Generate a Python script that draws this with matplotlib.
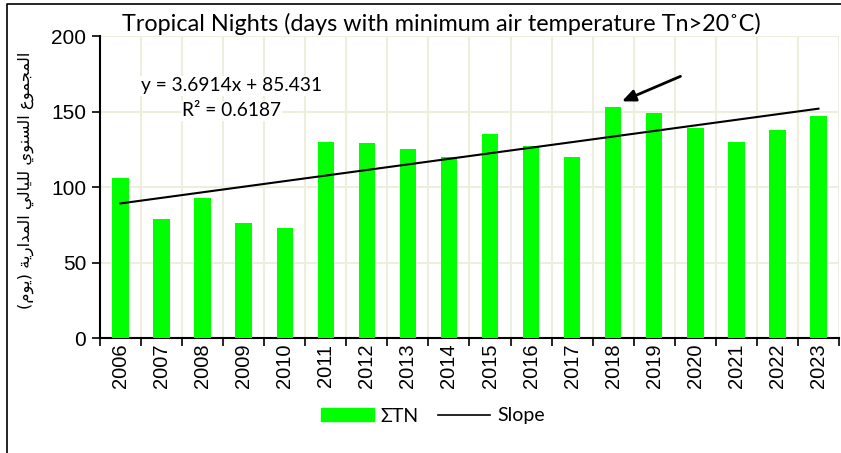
import numpy as np
import matplotlib
matplotlib.use("Agg")
import matplotlib.pyplot as plt
from matplotlib.lines import Line2D

# data
years = [str(y) for y in range(2006, 2024)]
tropical_nights = [106, 79, 93, 76, 73, 130, 129, 125, 120,
                   135, 127, 120, 153, 149, 139, 130, 138, 147]

# linear trend as printed on the chart (x = 1..18)
slope = 3.6914
intercept = 85.431
r2 = 0.6187

# y label in arabic, written in presentation forms (visual order)
ylab = ("(\uFEE1\uFEEE\uFEF3) "
        "\uFE94\uFEF3\uFEAD\uFE8D\uFEAA\uFEE4\uFEDF\uFE8D "
        "\uFEF2\uFEDF\uFE8E\uFEF4\uFEE0\uFEDF "
        "\uFEF1\uFEEE\uFEE8\uFEB4\uFEDF\uFE8D "
        "\uFEC9\uFEEE\uFEE4\uFEA0\uFEE4\uFEDF\uFE8D")

green = "#00FF00"
grid_col = "#EEEEDF"
txt_font = "Lato"

fig = plt.figure(figsize=(8.41, 4.53), dpi=100)
ax = fig.add_axes([100 / 841, 1 - 338 / 453, 739 / 841, 302 / 453])

x = np.arange(len(years))
ax.bar(x, tropical_nights, width=0.4, color=green, zorder=3)

xt = np.arange(1, len(years) + 1)
trend = slope * xt + intercept
ax.plot(x, trend, color="black", lw=1.5, zorder=4)

ax.set_xlim(-0.5, len(years) - 0.5)
ax.set_ylim(0, 200)
ax.set_yticks([0, 50, 100, 150, 200])
ax.set_xticks(x)
ax.set_xticklabels(years, rotation=90, fontsize=14.5, family="Liberation Sans")
ax.tick_params(axis="x", length=0, pad=4)
ax.set_xticks(np.arange(-0.5, len(years)), minor=True)
ax.tick_params(axis="x", which="minor", length=6, width=1.2, direction="out")
ax.tick_params(axis="y", length=6, width=1.2, labelsize=15, pad=4)
for lab in ax.get_yticklabels():
    lab.set_family("Liberation Sans")

ax.grid(True, which="minor", axis="x", color=grid_col, lw=1.5, zorder=0)
ax.grid(True, which="major", axis="y", color=grid_col, lw=1.5, zorder=0)
for s in ["top", "right"]:
    ax.spines[s].set_visible(False)
for s in ["left", "bottom"]:
    ax.spines[s].set_linewidth(1.5)

ax.set_ylabel(ylab, fontsize=11.8, family="DejaVu Sans")
ax.yaxis.set_label_coords(-66 / 739, 0.523)

fig.text(441 / 841, 1 - 24 / 453, "Tropical Nights (days with minimum air temperature Tn>20\u02daC)",
         ha="center", va="center", fontsize=16.8, family=txt_font)

ax.text(2.7, 167, f"y = {slope}x + {intercept}", ha="center", va="center",
        fontsize=13.8, family=txt_font, zorder=5,
        bbox=dict(facecolor="white", edgecolor="none", pad=1))
ax.text(2.7, 150.5, f"R\u00b2 = {r2}", ha="center", va="center",
        fontsize=13.8, family=txt_font, zorder=5,
        bbox=dict(facecolor="white", edgecolor="none", pad=1))

ax.annotate("", xy=(12.15, 156), xytext=(13.7, 174),
            arrowprops=dict(arrowstyle="-|>,head_length=0.8,head_width=0.35",
                            color="black", lw=2), zorder=6)

handles = [plt.Rectangle((0, 0), 1, 1, color=green),
           Line2D([0], [0], color="black", lw=1.2)]
fig.legend(handles, ["\u03a3TN", "Slope"], loc="center",
           bbox_to_anchor=(433 / 841, 1 - 416 / 453), ncol=2, frameon=False,
           prop={"family": txt_font, "size": 14}, handlelength=2.7,
           handleheight=0.65, columnspacing=1.0, handletextpad=0.35)

# chart border (top and left edge of the frame)
fig.add_artist(Line2D([7 / 841, 7 / 841, 1], [0, 1 - 4 / 453, 1 - 4 / 453],
                      transform=fig.transFigure, color="black", lw=1.2))

fig.savefig("out.png", dpi=100)
